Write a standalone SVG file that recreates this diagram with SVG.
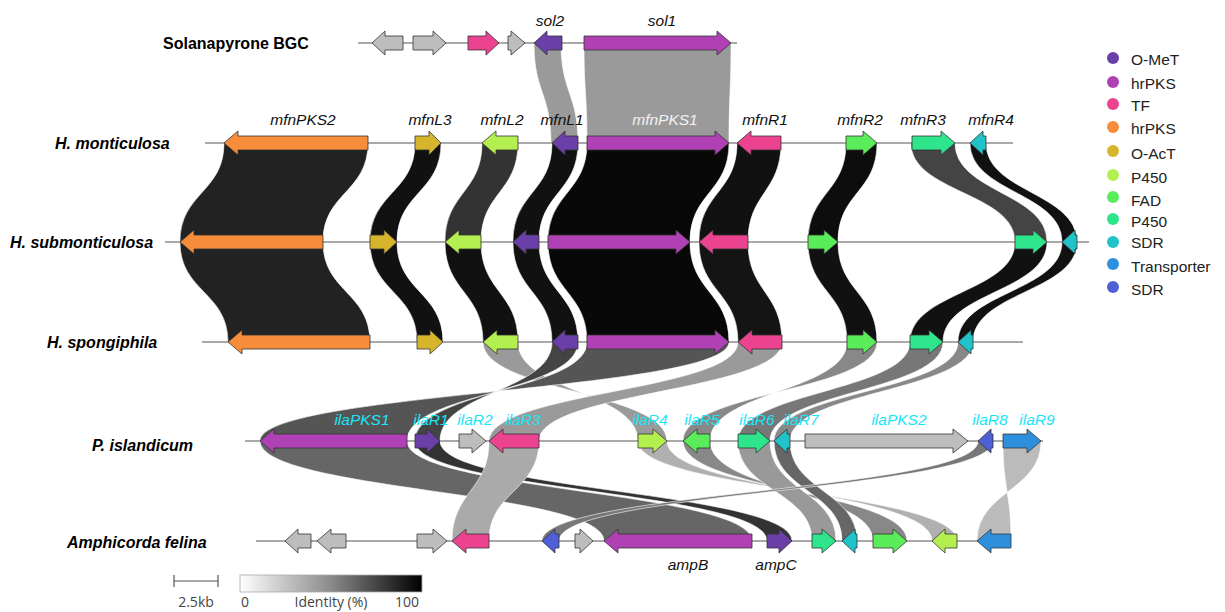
<svg xmlns="http://www.w3.org/2000/svg" width="1225" height="612" viewBox="0 0 1225 612">
<style>
.rib{stroke:#fff;stroke-width:0.6}
.bb{stroke:#555;stroke-width:1.2}
.g{stroke:#333;stroke-width:0.8;stroke-linejoin:miter}
.gray{fill:#bdbdbd}.omet{fill:#6b3fa8}.pks{fill:#b041b4}.tf{fill:#ec4390}.org{fill:#f78c3a}.oact{fill:#d6b52c}.p1{fill:#b4ef50}.fad{fill:#5bec5b}.p2{fill:#2ee58c}.sdr{fill:#1fc3c9}.tr{fill:#2e8fdc}.sdr2{fill:#4f5fd5}
.row{font-family:"Liberation Sans",Arial,sans-serif;font-size:16px;font-weight:bold}
.ri{font-style:italic}
.gl{font-family:"Liberation Sans",Arial,sans-serif;font-size:15.5px;font-style:italic;fill:#111;text-anchor:middle}
.cy{fill:#19e6f7}
.lg{font-family:"Liberation Sans",Arial,sans-serif;font-size:15.5px;fill:#222}
.sc{font-family:"Open Sans","DejaVu Sans",sans-serif;font-size:14px;fill:#444;text-anchor:middle}
</style>
<defs>
<linearGradient id="idg" x1="0" y1="0" x2="1" y2="0">
<stop offset="0" stop-color="#fff"/><stop offset="0.5" stop-color="#8a8a8a"/><stop offset="1" stop-color="#000"/>
</linearGradient>
</defs>
<rect width="1225" height="612" fill="#fff"/>
<g id="connectors">
<path class="rib" fill="#9a9a9a" d="M534 43L561 43C561 93 578 93 578 143L551 143C551 93 534 93 534 43Z"/>
<path class="rib" fill="#9a9a9a" d="M584 43L731 43C731 93 729 93 729 143L587 143C587 93 584 93 584 43Z"/>
<path class="rib" fill="#222" d="M224 143L368 143C368 192.5 323 192.5 323 242L180 242C180 192.5 224 192.5 224 143Z"/>
<path class="rib" fill="#111" d="M415 143L441 143C441 192.5 397 192.5 397 242L370 242C370 192.5 415 192.5 415 143Z"/>
<path class="rib" fill="#333" d="M482 143L518 143C518 192.5 481 192.5 481 242L445 242C445 192.5 482 192.5 482 143Z"/>
<path class="rib" fill="#111" d="M552 143L578 143C578 192.5 539 192.5 539 242L513 242C513 192.5 552 192.5 552 143Z"/>
<path class="rib" fill="#080808" d="M587 143L729 143C729 192.5 690 192.5 690 242L548 242C548 192.5 587 192.5 587 143Z"/>
<path class="rib" fill="#111" d="M737 143L781 143C781 192.5 748 192.5 748 242L699 242C699 192.5 737 192.5 737 143Z"/>
<path class="rib" fill="#0d0d0d" d="M846 143L877 143C877 192.5 838 192.5 838 242L808 242C808 192.5 846 192.5 846 143Z"/>
<path class="rib" fill="#444" d="M911 143L955 143C955 192.5 1047 192.5 1047 242L1015 242C1015 192.5 911 192.5 911 143Z"/>
<path class="rib" fill="#111" d="M970 143L986 143C986 192.5 1077 192.5 1077 242L1062 242C1062 192.5 970 192.5 970 143Z"/>
<path class="rib" fill="#222" d="M180 242L323 242C323 292 370 292 370 342L228 342C228 292 180 292 180 242Z"/>
<path class="rib" fill="#111" d="M370 242L397 242C397 292 443 292 443 342L417 342C417 292 370 292 370 242Z"/>
<path class="rib" fill="#111" d="M445 242L481 242C481 292 518 292 518 342L483 342C483 292 445 292 445 242Z"/>
<path class="rib" fill="#111" d="M513 242L539 242C539 292 578 292 578 342L552 342C552 292 513 292 513 242Z"/>
<path class="rib" fill="#080808" d="M548 242L690 242C690 292 729 292 729 342L587 342C587 292 548 292 548 242Z"/>
<path class="rib" fill="#141414" d="M699 242L748 242C748 292 782 292 782 342L738 342C738 292 699 292 699 242Z"/>
<path class="rib" fill="#111" d="M808 242L838 242C838 292 877 292 877 342L847 342C847 292 808 292 808 242Z"/>
<path class="rib" fill="#111" d="M1015 242L1047 242C1047 292 943 292 943 342L910 342C910 292 1015 292 1015 242Z"/>
<path class="rib" fill="#111" d="M1062 242L1077 242C1077 292 973 292 973 342L958 342C958 292 1062 292 1062 242Z"/>
<path class="rib" fill="#9a9a9a" d="M483 342L518 342C518 391.5 638 391.5 638 441L667 441C667 391.5 483 391.5 483 342Z"/>
<path class="rib" fill="#555" d="M587 342L729 342C729 391.5 260 391.5 260 441L407 441C407 391.5 587 391.5 587 342Z"/>
<path class="rib" fill="#444" d="M552 342L578 342C578 391.5 415 391.5 415 441L440 441C440 391.5 552 391.5 552 342Z"/>
<path class="rib" fill="#9a9a9a" d="M738 342L782 342C782 391.5 539 391.5 539 441L489 441C489 391.5 738 391.5 738 342Z"/>
<path class="rib" fill="#888" d="M847 342L877 342C877 391.5 683 391.5 683 441L710 441C710 391.5 847 391.5 847 342Z"/>
<path class="rib" fill="#777" d="M910 342L943 342C943 391.5 770 391.5 770 441L738 441C738 391.5 910 391.5 910 342Z"/>
<path class="rib" fill="#888" d="M958 342L973 342C973 391.5 790 391.5 790 441L774 441C774 391.5 958 391.5 958 342Z"/>
<path class="rib" fill="#666" d="M260 441L407 441C407 491 752 491 752 541L604 541C604 491 260 491 260 441Z"/>
<path class="rib" fill="#333" d="M415 441L440 441C440 491 792 491 792 541L767 541C767 491 415 491 415 441Z"/>
<path class="rib" fill="#aaa" d="M489 441L539 441C539 491 489 491 489 541L452 541C452 491 489 491 489 441Z"/>
<path class="rib" fill="#b0b0b0" d="M638 441L667 441C667 491 932 491 932 541L957 541C957 491 638 491 638 441Z"/>
<path class="rib" fill="#888" d="M683 441L710 441C710 491 873 491 873 541L907 541C907 491 683 491 683 441Z"/>
<path class="rib" fill="#999" d="M738 441L770 441C770 491 836 491 836 541L812 541C812 491 738 491 738 441Z"/>
<path class="rib" fill="#666" d="M774 441L790 441C790 491 857 491 857 541L842 541C842 491 774 491 774 441Z"/>
<path class="rib" fill="#777" d="M978 441L993 441C993 491 559 491 559 541L542 541C542 491 978 491 978 441Z"/>
<path class="rib" fill="#bbb" d="M1003 441L1041 441C1041 491 977 491 977 541L1011 541C1011 491 1003 491 1003 441Z"/>
</g>
<g id="backbones">
<line class="bb" x1="358" y1="43" x2="737" y2="43"/>
<line class="bb" x1="205" y1="143" x2="1013" y2="143"/>
<line class="bb" x1="165" y1="242" x2="1089" y2="242"/>
<line class="bb" x1="202" y1="342" x2="1023" y2="342"/>
<line class="bb" x1="245" y1="441" x2="1043" y2="441"/>
<line class="bb" x1="256" y1="541" x2="1011" y2="541"/>
</g>
<g id="row-solanapyrone">
<text class="row" x="163" y="49">Solanapyrone BGC</text>
<polygon class="g gray" points="403,36 385,36 385,31 372,43 385,55 385,50 403,50"/>
<polygon class="g gray" points="413,36 433,36 433,31 446,43 433,55 433,50 413,50"/>
<polygon class="g tf" points="468,36 486,36 486,31 499,43 486,55 486,50 468,50"/>
<polygon class="g gray" points="508,36 511,36 511,31 525,43 511,55 511,50 508,50"/>
<polygon class="g omet" points="562,36 547,36 547,31 534,43 547,55 547,50 562,50"/>
<polygon class="g pks" points="584,36 717,36 717,31 731,43 717,55 717,50 584,50"/>
<text class="gl" x="550" y="26">sol2</text>
<text class="gl" x="662" y="26">sol1</text>
</g>
<g id="row-h-monticulosa">
<text class="row ri" x="55" y="149">H. monticulosa</text>
<polygon class="g org" points="368,136 238,136 238,131 224,143 238,155 238,150 368,150"/>
<polygon class="g oact" points="415,136 429,136 429,131 441,143 429,155 429,150 415,150"/>
<polygon class="g p1" points="518,136 496,136 496,131 482,143 496,155 496,150 518,150"/>
<polygon class="g omet" points="578,136 565,136 565,131 552,143 565,155 565,150 578,150"/>
<polygon class="g pks" points="587,136 715,136 715,131 729,143 715,155 715,150 587,150"/>
<polygon class="g tf" points="781,136 751,136 751,131 737,143 751,155 751,150 781,150"/>
<polygon class="g fad" points="846,136 863,136 863,131 877,143 863,155 863,150 846,150"/>
<polygon class="g p2" points="912,136 941,136 941,131 955,143 941,155 941,150 912,150"/>
<polygon class="g sdr" points="986,136 983,136 983,131 970,143 983,155 983,150 986,150"/>
<text class="gl" x="303" y="125">mfnPKS2</text>
<text class="gl" x="430" y="125">mfnL3</text>
<text class="gl" x="502" y="125">mfnL2</text>
<text class="gl" x="562" y="125">mfnL1</text>
<text class="gl" x="665" y="125" style="fill:#f2f2f2">mfnPKS1</text>
<text class="gl" x="765" y="125">mfnR1</text>
<text class="gl" x="860" y="125">mfnR2</text>
<text class="gl" x="923" y="125">mfnR3</text>
<text class="gl" x="991" y="125">mfnR4</text>
</g>
<g id="row-h-submonticulosa">
<text class="row ri" x="10" y="248">H. submonticulosa</text>
<polygon class="g org" points="323,235 194,235 194,230 180,242 194,254 194,249 323,249"/>
<polygon class="g oact" points="370,235 384,235 384,230 397,242 384,254 384,249 370,249"/>
<polygon class="g p1" points="481,235 459,235 459,230 445,242 459,254 459,249 481,249"/>
<polygon class="g omet" points="539,235 526,235 526,230 513,242 526,254 526,249 539,249"/>
<polygon class="g pks" points="548,235 676,235 676,230 690,242 676,254 676,249 548,249"/>
<polygon class="g tf" points="748,235 713,235 713,230 699,242 713,254 713,249 748,249"/>
<polygon class="g fad" points="808,235 824,235 824,230 838,242 824,254 824,249 808,249"/>
<polygon class="g p2" points="1015,235 1033,235 1033,230 1047,242 1033,254 1033,249 1015,249"/>
<polygon class="g sdr" points="1077,235 1075,235 1075,230 1062,242 1075,254 1075,249 1077,249"/>
</g>
<g id="row-h-spongiphila">
<text class="row ri" x="47" y="348">H. spongiphila</text>
<polygon class="g org" points="370,335 242,335 242,330 228,342 242,354 242,349 370,349"/>
<polygon class="g oact" points="417,335 430,335 430,330 443,342 430,354 430,349 417,349"/>
<polygon class="g p1" points="518,335 497,335 497,330 483,342 497,354 497,349 518,349"/>
<polygon class="g omet" points="578,335 565,335 565,330 552,342 565,354 565,349 578,349"/>
<polygon class="g pks" points="587,335 715,335 715,330 729,342 715,354 715,349 587,349"/>
<polygon class="g tf" points="782,335 752,335 752,330 738,342 752,354 752,349 782,349"/>
<polygon class="g fad" points="847,335 863,335 863,330 877,342 863,354 863,349 847,349"/>
<polygon class="g p2" points="910,335 929,335 929,330 943,342 929,354 929,349 910,349"/>
<polygon class="g sdr" points="973,335 971,335 971,330 958,342 971,354 971,349 973,349"/>
</g>
<g id="row-p-islandicum">
<text class="row ri" x="92" y="451">P. islandicum</text>
<polygon class="g pks" points="407,434 274,434 274,429 260,441 274,453 274,448 407,448"/>
<polygon class="g omet" points="415,434 427,434 427,429 440,441 427,453 427,448 415,448"/>
<polygon class="g gray" points="459,434 472,434 472,429 486,441 472,453 472,448 459,448"/>
<polygon class="g tf" points="539,434 503,434 503,429 489,441 503,453 503,448 539,448"/>
<polygon class="g p1" points="638,434 653,434 653,429 667,441 653,453 653,448 638,448"/>
<polygon class="g fad" points="710,434 697,434 697,429 683,441 697,453 697,448 710,448"/>
<polygon class="g p2" points="738,434 756,434 756,429 770,441 756,453 756,448 738,448"/>
<polygon class="g sdr" points="790,434 787,434 787,429 774,441 787,453 787,448 790,448"/>
<polygon class="g gray" points="805,434 953,434 953,429 968,441 953,453 953,448 805,448"/>
<polygon class="g sdr2" points="993,434 991,434 991,429 978,441 991,453 991,448 993,448"/>
<polygon class="g tr" points="1003,434 1027,434 1027,429 1041,441 1027,453 1027,448 1003,448"/>
<text class="gl cy" x="362" y="425">ilaPKS1</text>
<text class="gl cy" x="431" y="425">ilaR1</text>
<text class="gl cy" x="475" y="425">ilaR2</text>
<text class="gl cy" x="523" y="425">ilaR3</text>
<text class="gl cy" x="650" y="425">ilaR4</text>
<text class="gl cy" x="702" y="425">ilaR5</text>
<text class="gl cy" x="757" y="425">ilaR6</text>
<text class="gl cy" x="801" y="425">ilaR7</text>
<text class="gl cy" x="899" y="425">ilaPKS2</text>
<text class="gl cy" x="990" y="425">ilaR8</text>
<text class="gl cy" x="1037" y="425">ilaR9</text>
</g>
<g id="row-amphicorda-felina">
<text class="row ri" x="67" y="548">Amphicorda felina</text>
<polygon class="g gray" points="311,534 298,534 298,529 285,541 298,553 298,548 311,548"/>
<polygon class="g gray" points="346,534 331,534 331,529 317,541 331,553 331,548 346,548"/>
<polygon class="g gray" points="417,534 433,534 433,529 447,541 433,553 433,548 417,548"/>
<polygon class="g tf" points="489,534 466,534 466,529 452,541 466,553 466,548 489,548"/>
<polygon class="g sdr2" points="559,534 555,534 555,529 542,541 555,553 555,548 559,548"/>
<polygon class="g gray" points="575,534 580,534 580,529 593,541 580,553 580,548 575,548"/>
<polygon class="g pks" points="752,534 618,534 618,529 604,541 618,553 618,548 752,548"/>
<polygon class="g omet" points="767,534 779,534 779,529 792,541 779,553 779,548 767,548"/>
<polygon class="g p2" points="812,534 822,534 822,529 836,541 822,553 822,548 812,548"/>
<polygon class="g sdr" points="857,534 855,534 855,529 842,541 855,553 855,548 857,548"/>
<polygon class="g fad" points="873,534 893,534 893,529 907,541 893,553 893,548 873,548"/>
<polygon class="g p1" points="957,534 945,534 945,529 932,541 945,553 945,548 957,548"/>
<polygon class="g tr" points="1011,534 991,534 991,529 977,541 991,553 991,548 1011,548"/>
<text class="gl" x="688" y="570">ampB</text>
<text class="gl" x="776" y="570">ampC</text>
</g>
<g id="legend">
<circle cx="1113" cy="58" r="6" class="omet"/><text class="lg" x="1131" y="65">O-MeT</text>
<circle cx="1113" cy="82" r="6" class="pks"/><text class="lg" x="1131" y="89">hrPKS</text>
<circle cx="1113" cy="104" r="6" class="tf"/><text class="lg" x="1131" y="111">TF</text>
<circle cx="1113" cy="127" r="6" class="org"/><text class="lg" x="1131" y="134">hrPKS</text>
<circle cx="1113" cy="151" r="6" class="oact"/><text class="lg" x="1131" y="159">O-AcT</text>
<circle cx="1113" cy="175" r="6" class="p1"/><text class="lg" x="1131" y="183">P450</text>
<circle cx="1113" cy="197" r="6" class="fad"/><text class="lg" x="1131" y="206">FAD</text>
<circle cx="1113" cy="219" r="6" class="p2"/><text class="lg" x="1131" y="227">P450</text>
<circle cx="1113" cy="242" r="6" class="sdr"/><text class="lg" x="1131" y="248">SDR</text>
<circle cx="1113" cy="264" r="6" class="tr"/><text class="lg" x="1131" y="272">Transporter</text>
<circle cx="1113" cy="287" r="6" class="sdr2"/><text class="lg" x="1131" y="295">SDR</text>
</g>
<g id="scale">
<line x1="174" y1="581" x2="218" y2="581" stroke="#555" stroke-width="1.2"/>
<line x1="174" y1="575" x2="174" y2="587" stroke="#555" stroke-width="1.2"/>
<line x1="218" y1="575" x2="218" y2="587" stroke="#555" stroke-width="1.2"/>
<text class="sc" x="196" y="607">2.5kb</text>
<rect x="240" y="575" width="182" height="17" fill="url(#idg)" stroke="#aaa" stroke-width="0.8"/>
<text class="sc" x="245" y="607">0</text>
<text class="sc" x="331" y="607">Identity (%)</text>
<text class="sc" x="407" y="607">100</text>
</g>
</svg>
